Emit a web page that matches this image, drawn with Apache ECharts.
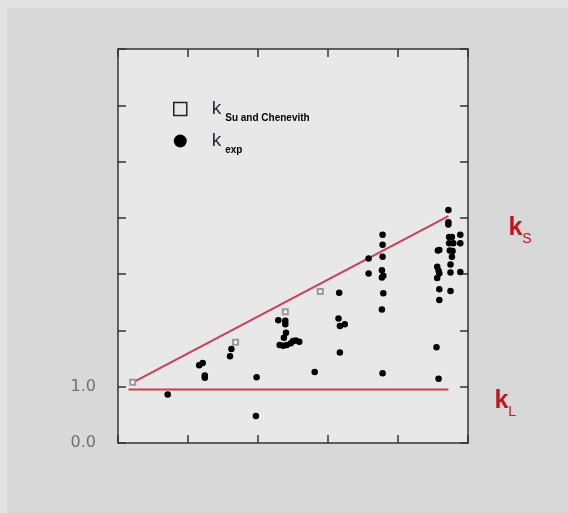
<!DOCTYPE html>
<html>
<head>
<meta charset="utf-8">
<script src="https://cdn.jsdelivr.net/npm/echarts@6/dist/echarts.min.js"></script>
<style>
html,body{margin:0;padding:0;background:#d8d8d8;}
#chart{width:568px;height:513px;}
</style>
</head>
<body>
<div id="chart"></div>
<script>
// ---- data ----
const legendNames = ['k_Su', 'k_exp'];
const legendSubs = ['Su and Chenevith', 'exp'];
const yTickLabels = { 0: '0.0', 1: '1.0' };

const kSu = [[0.21, 1.08], [1.68, 1.79], [2.39, 2.33], [2.89, 2.69]];

const kExp = [
  [0.71, 0.86],
  [1.16, 1.38], [1.21, 1.42], [1.24, 1.20], [1.24, 1.16],
  [1.60, 1.54], [1.62, 1.67],
  [1.98, 1.17], [1.97, 0.48],
  [2.29, 2.18], [2.39, 2.17], [2.39, 2.11], [2.40, 1.96], [2.37, 1.87],
  [2.31, 1.74], [2.36, 1.73], [2.41, 1.74], [2.47, 1.77], [2.50, 1.81],
  [2.54, 1.82], [2.59, 1.80],
  [2.81, 1.26],
  [3.16, 2.67], [3.15, 2.21], [3.17, 2.08], [3.24, 2.11], [3.17, 1.61],
  [3.58, 3.28], [3.58, 3.01],
  [3.78, 3.70], [3.78, 3.52], [3.78, 3.31], [3.77, 3.07], [3.79, 2.97],
  [3.77, 2.94], [3.79, 2.66], [3.77, 2.37], [3.78, 1.24],
  [4.72, 4.14], [4.72, 3.92], [4.72, 3.88],
  [4.59, 3.43], [4.57, 3.42], [4.56, 3.13], [4.58, 3.06], [4.59, 3.01],
  [4.56, 2.93], [4.59, 2.73], [4.59, 2.54], [4.55, 1.70], [4.58, 1.14],
  [4.73, 3.66], [4.77, 3.66], [4.73, 3.55], [4.79, 3.55], [4.89, 3.70],
  [4.89, 3.55], [4.74, 3.42], [4.78, 3.41], [4.77, 3.31], [4.75, 3.17],
  [4.75, 3.03], [4.89, 3.04], [4.75, 2.70]
];

const kSLine = [[0.20, 1.07], [4.72, 4.03]];
const kLLine = [[0.15, 0.95], [4.72, 0.95]];
const lineLabels = ['S', 'L'];

// ---- chart ----
const chart = echarts.init(document.getElementById('chart'));
const axisCol = '#333';
const red = '#cf3c55';
const labelRed = '#c4141c';

function endLabel(sub, offset) {
  return {
    show: true,
    offset: offset,
    formatter: '{k|k}{s|' + sub + '}',
    rich: {
      k: { fontSize: 25, color: labelRed, fontFamily: 'Liberation Sans', fontWeight: 'bold', verticalAlign: 'bottom', lineHeight: 24 },
      s: { fontSize: 14, color: labelRed, fontFamily: 'Liberation Sans', verticalAlign: 'bottom', lineHeight: 14, padding: [0, 0, -6, 0] }
    }
  };
}

const xAxisBase = {
  type: 'value', min: 0, max: 5, interval: 1,
  axisLine: { show: true, onZero: false, lineStyle: { color: axisCol, width: 1.5 } },
  axisTick: { show: true, inside: true, length: 8, lineStyle: { color: axisCol, width: 1.5 } },
  axisLabel: { show: false },
  splitLine: { show: false }
};
const yAxisBase = {
  type: 'value', min: 0, max: 7, interval: 1,
  axisLine: { show: true, onZero: false, lineStyle: { color: axisCol, width: 1.5 } },
  axisTick: { show: true, inside: true, length: 8, lineStyle: { color: axisCol, width: 1.5 } },
  splitLine: { show: false }
};

chart.setOption({
  backgroundColor: '#d8d8d8',
  animation: false,
  graphic: [
    { type: 'rect', left: 0, top: 0, shape: { width: 568, height: 8 }, style: { fill: '#e2e2e2' }, silent: true, z: -10 },
    { type: 'rect', left: 0, top: 0, shape: { width: 7, height: 513 }, style: { fill: '#e2e2e2' }, silent: true, z: -10 }
  ],
  grid: {
    left: 118, right: 100, top: 49, bottom: 70,
    show: true, backgroundColor: '#e8e8e8', borderWidth: 0
  },
  legend: {
    orient: 'vertical',
    left: 168, top: 94,
    itemWidth: 13, itemHeight: 13,
    itemGap: 8,
    data: [
      { name: legendNames[0], icon: 'rect', itemStyle: { color: 'transparent', borderColor: '#222', borderWidth: 1.5 } },
      { name: legendNames[1], icon: 'circle', itemStyle: { color: '#000' } }
    ],
    formatter: function (name) {
      const i = legendNames.indexOf(name);
      return '{k|k}{s|' + legendSubs[i] + '}';
    },
    textStyle: {
      padding: [0, 0, 0, 20],
      rich: {
        k: { fontSize: 19, color: '#2a2a3a', fontFamily: 'Liberation Sans', verticalAlign: 'bottom', lineHeight: 18 },
        s: { fontSize: 10, color: '#000', fontWeight: 'bold', fontFamily: 'Liberation Sans', verticalAlign: 'bottom', lineHeight: 8, padding: [0, 0, -5, 4] }
      }
    }
  },
  xAxis: [
    Object.assign({}, xAxisBase, { position: 'bottom' }),
    Object.assign({}, xAxisBase, { position: 'top' })
  ],
  yAxis: [
    Object.assign({}, yAxisBase, {
      position: 'left',
      axisLabel: {
        show: true, margin: 22, color: '#707070', fontSize: 16, fontFamily: 'DejaVu Sans',
        formatter: v => (yTickLabels[v] !== undefined ? yTickLabels[v] : '')
      }
    }),
    Object.assign({}, yAxisBase, { position: 'right', axisLabel: { show: false } })
  ],
  series: [
    {
      name: 'kS line', type: 'line', data: kSLine,
      symbol: 'none', lineStyle: { color: red, width: 2 }, z: 1, silent: true,
      endLabel: endLabel(lineLabels[0], [52, 12])
    },
    {
      name: 'kL line', type: 'line', data: kLLine,
      symbol: 'none', lineStyle: { color: red, width: 2 }, z: 1, silent: true,
      endLabel: endLabel(lineLabels[1], [38, 12])
    },
    {
      name: legendNames[0], type: 'scatter', data: kSu,
      symbol: 'emptyRect', symbolSize: 5,
      itemStyle: { color: '#999', borderColor: '#999', borderWidth: 1, opacity: 1 }, z: 3
    },
    {
      name: legendNames[1], type: 'scatter', data: kExp,
      symbol: 'circle', symbolSize: 6.5,
      itemStyle: { color: '#000', opacity: 1 }, z: 4
    }
  ]
});
</script>
</body>
</html>
